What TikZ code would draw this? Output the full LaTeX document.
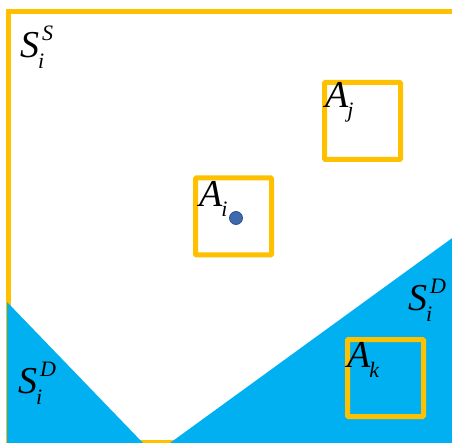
\documentclass[tikz,border=0pt]{standalone}
\usepackage{fontspec}
\setmainfont{Liberation Serif}
\definecolor{gold}{HTML}{FFC000}
\definecolor{skyblue}{HTML}{00B0F0}
\definecolor{dotblue}{HTML}{3D69AD}
\definecolor{dotedge}{HTML}{2F528F}
\newcommand\bigfont{\fontsize{38}{42}\selectfont\itshape}
\newcommand\smallfont{\fontsize{22}{24}\selectfont\itshape}
% letter with sub and sup
\newcommand\subsup[3]{#1\kern-1pt\rlap{\raisebox{-11pt}{\smallfont #3}}\kern4pt\raisebox{17pt}{\smallfont #2}}
\newcommand\subonly[2]{#1\kern-1pt\raisebox{-10pt}{\smallfont #2}}
\begin{document}
\begin{tikzpicture}[x=1pt,y=-1pt,
  areabox/.style={draw=gold,line width=5pt,rounded corners=1pt,minimum width=76pt,minimum height=77pt,inner sep=0pt},
  lbl/.style={anchor=base west,inner sep=0pt,font=\bigfont},
  region/.style={fill=skyblue,draw=none}]
\useasboundingbox (0,0) rectangle (452,443);
\clip (0,0) rectangle (452,443);
\fill[white] (0,0) rectangle (452,443);
% outer frame
\draw[gold,line width=5pt] (460,12) -- (8.5,12) -- (8.5,442) -- (460,442);
% blue regions
\fill[region] (7,302) -- (143,443) -- (7,445) -- cycle;
\fill[region] (170,443) -- (455,236) -- (455,445) -- (170,445) -- cycle;
% boxes
\node[areabox] (Aj) at (362.5,121) {};
\node[areabox] (Ai) at (233.5,216.5) {};
\node[areabox] (Ak) at (385.5,378) {};
% dot
\fill[dotblue,draw=dotedge,line width=0.8pt] (236,218) circle (6.5pt);
% labels
\node[lbl] (SS) at (20,58) {\subsup{S}{S}{i}};
\node[lbl] (SDr) at (408,310) {\subsup{S}{D}{i}};
\node[lbl] (SDl) at (18,393) {\subsup{S}{D}{i}};
\node[lbl] (lAj) at (325,108) {\subonly{A}{j}};
\node[lbl] (lAi) at (199,207) {\subonly{A}{i}};
\node[lbl] (lAk) at (347,367) {\subonly{A}{k}};
\end{tikzpicture}
\end{document}
